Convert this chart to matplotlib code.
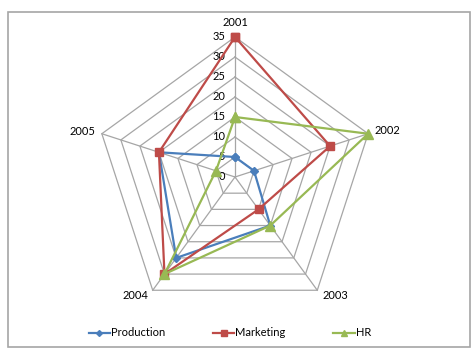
import numpy as np
import matplotlib.pyplot as plt
from matplotlib.patches import Rectangle

plt.rcParams['font.family'] = ['Lato', 'DejaVu Sans']

years = ['2001', '2002', '2003', '2004', '2005']
production = [5, 5, 15, 25, 20]
marketing = [35, 25, 10, 30, 20]
hr = [15, 35, 15, 30, 5]
ticks = [0, 5, 10, 15, 20, 25, 30, 35]

fig = plt.figure(figsize=(4.76, 3.6), dpi=100)
fig.patches.append(Rectangle((8 / 476, 13 / 360), 462 / 476, 335 / 360,
                             transform=fig.transFigure, fill=False,
                             edgecolor='#a6a6a6', lw=1.2))

ax = fig.add_axes([95 / 476, 43 / 360, 280 / 476, 280 / 360], projection='polar')
ax.set_theta_zero_location('N')
ax.set_theta_direction(-1)
ax.set_ylim(0, 35)
ax.grid(False)
ax.spines['polar'].set_visible(False)
ax.set_xticks([])
ax.set_yticks([])
ax.patch.set_alpha(0)

theta = np.linspace(0, 2 * np.pi, len(years), endpoint=False)
closed = np.append(theta, theta[0])

# pentagon grid
grid_c = '#a6a6a6'
for t in ticks[1:]:
    ax.plot(closed, [t] * len(closed), color=grid_c, lw=0.9, zorder=1, clip_on=False)
for a in theta:
    ax.plot([a, a], [0, 35], color=grid_c, lw=0.9, zorder=1, clip_on=False)

# radial labels
for t in ticks:
    ax.annotate(str(t), xy=(0, t), xytext=(-10, 0), textcoords='offset pixels',
                ha='right', va='center', fontsize=8, annotation_clip=False)

# category labels
offsets = [((0, 15), 'center'), ((6, 3), 'left'), ((5, -5), 'left'),
           ((-4, -5), 'right'), ((-6, 2), 'right')]
for a, lab, (off, ha) in zip(theta, years, offsets):
    ax.annotate(lab, xy=(a, 35), xytext=off, textcoords='offset pixels',
                ha=ha, va='center', fontsize=8, annotation_clip=False)

series = [('Production', production, '#4a7ebb', 'D', 4),
          ('Marketing', marketing, '#be4b48', 's', 6),
          ('HR', hr, '#98b954', '^', 6.5)]
for name, vals, col, mk, ms in series:
    ax.plot(closed, vals + vals[:1], color=col, lw=1.6, marker=mk, ms=ms,
            label=name, zorder=3, clip_on=False)

fig.legend(loc='center', bbox_to_anchor=(0.483, 0.075), ncol=3, frameon=False,
           fontsize=8, handlelength=1.9, handletextpad=0.1, columnspacing=4.3,
           markerscale=0.75)

fig.savefig('out.png', dpi=100)
